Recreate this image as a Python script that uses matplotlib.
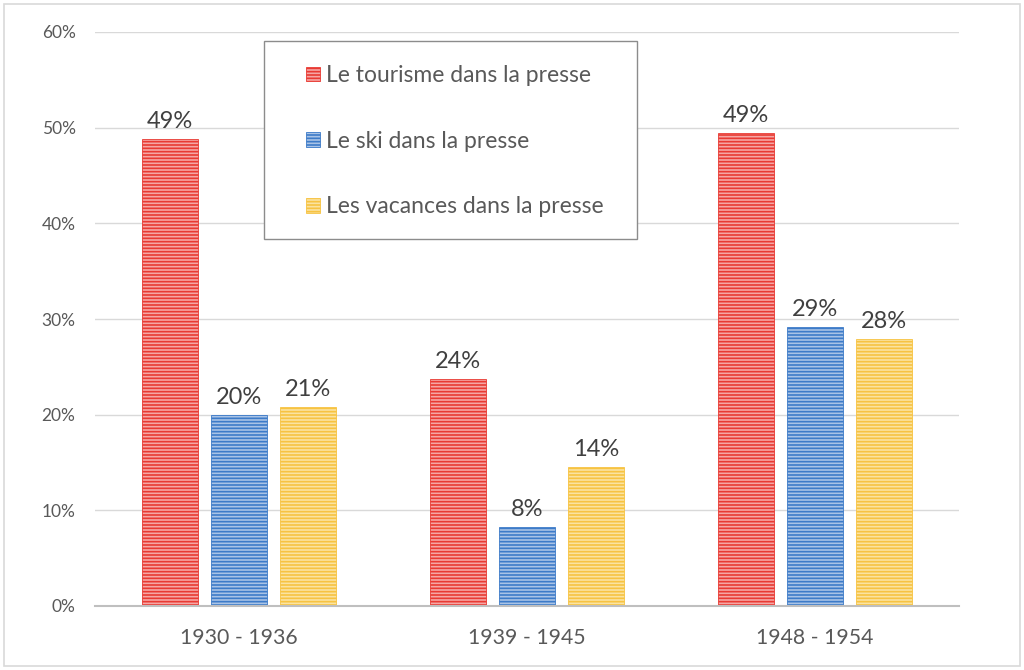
import matplotlib
matplotlib.use("Agg")
import matplotlib.pyplot as plt
from matplotlib.patches import Rectangle
from matplotlib.ticker import PercentFormatter
import numpy as np

periods = ["1930 - 1936", "1939 - 1945", "1948 - 1954"]
series_names = ["Le tourisme dans la presse", "Le ski dans la presse",
                "Les vacances dans la presse"]
tourisme = [48.8, 23.7, 49.4]
ski = [20.0, 8.3, 29.2]
vacances = [20.8, 14.5, 27.9]

light_colors = ["#F6A6A4", "#A9C3E6", "#FBE3A0"]
dark_colors = ["#E83A33", "#3D7BC8", "#F7C342"]

plt.rcParams["font.family"] = ["Lato", "DejaVu Sans"]
plt.rcParams["hatch.linewidth"] = 1.2

fig = plt.figure(figsize=(10.24, 6.7), dpi=100)
ax = fig.add_axes([95 / 1024, 64 / 670, 864 / 1024, 574 / 670])

# outer chart border
fig.patches.append(Rectangle((4 / 1024, 4 / 670), 1016 / 1024, 662 / 670,
                             transform=fig.transFigure, fill=False,
                             edgecolor="#D9D9D9", linewidth=1.2))

x = np.arange(len(periods))
width = 0.197
step = 0.24
all_series = [tourisme, ski, vacances]

for i, vals in enumerate(all_series):
    pos = x + (i - 1) * step
    bars = ax.bar(pos, vals, width, color=light_colors[i], edgecolor=dark_colors[i],
                  linewidth=0.6, hatch="-----", label=series_names[i], zorder=2)
    for b, v in zip(bars, vals):
        ax.annotate(f"{v:.0f}%", (b.get_x() + b.get_width() / 2, v),
                    xytext=(0, 5), textcoords="offset points",
                    ha="center", va="bottom", fontsize=17, color="#404040")

ax.set_xlim(-0.5, 2.5)
ax.set_ylim(0, 60)
ax.set_yticks(np.arange(0, 61, 10))
ax.yaxis.set_major_formatter(PercentFormatter(decimals=0))
ax.set_xticks(x)
ax.set_xticklabels(periods)
ax.tick_params(axis="y", length=0, pad=14, labelsize=12.5, labelcolor="#595959")
ax.tick_params(axis="x", length=0, pad=16, labelsize=15.3, labelcolor="#595959")
ax.grid(axis="y", color="#D9D9D9", linewidth=1, zorder=0)
for s in ["top", "right", "left"]:
    ax.spines[s].set_visible(False)
ax.spines["bottom"].set_color("#BFBFBF")
ax.spines["bottom"].set_linewidth(1.5)
ax.spines["bottom"].set_zorder(3)

# legend frame
fig.patches.append(Rectangle((264 / 1024, (670 - 239) / 670), 373 / 1024, 198 / 670,
                             transform=fig.transFigure, facecolor="white",
                             edgecolor="#8C8C8C", linewidth=1.0, zorder=5))
leg = fig.legend(loc="upper left", bbox_to_anchor=(295 / 1024, (670 - 53.5) / 670),
                 frameon=False, fontsize=16.5, labelspacing=1.95,
                 handlelength=0.6, handleheight=0.6, handletextpad=0.25,
                 borderpad=0)
for t in leg.get_texts():
    t.set_color("#595959")
leg.set_zorder(6)

fig.savefig("out.png", dpi=100)
